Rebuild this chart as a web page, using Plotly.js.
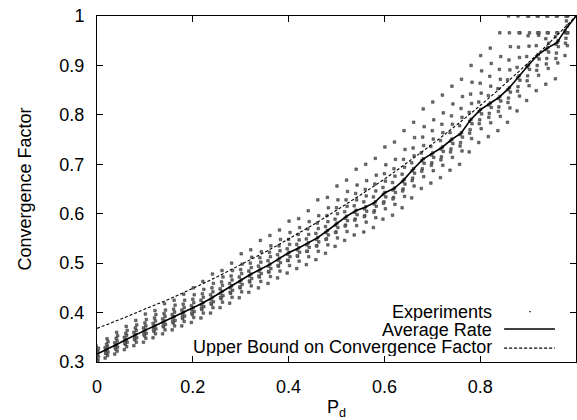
<!DOCTYPE html>
<html>
<head>
<meta charset="utf-8">
<script src="https://cdn.plot.ly/plotly-3.0.1.min.js"></script>
<style>html,body{margin:0;padding:0;background:#fff;}#chart{width:577px;height:420px;}</style>
</head>
<body>
<div id="chart"></div>
<script>
// Column positions of the experiments (P_d)
var colX = [0,0.02,0.04,0.06,0.08,0.10,0.12,0.14,0.16,0.18,0.20,0.22,0.24,0.26,0.28,0.30,0.32,0.34,0.36,0.38,0.40,0.42,0.44,0.46,0.48,0.50,0.52,0.54,0.56,0.58,0.60,0.62,0.64,0.66,0.68,0.70,0.72,0.74,0.76,0.78,0.80,0.82,0.84,0.86,0.88,0.90,0.92,0.94,0.96,0.98];
// Experiment values per column
var expY = [
[.300,.304,.308,.311,.314,.316,.318,.321,.324,.328,.333,.303],
[.308,.313,.317,.320,.323,.326,.329,.332,.336,.341,.318,.347],
[.316,.322,.326,.330,.333,.336,.339,.343,.348,.353,.329,.360],
[.325,.331,.336,.340,.343,.346,.350,.354,.358,.364,.338,.372],
[.333,.340,.345,.349,.353,.356,.360,.364,.369,.375,.347,.384],
[.340,.348,.353,.358,.362,.365,.369,.373,.379,.386,.356,.397],
[.349,.357,.362,.367,.371,.374,.378,.383,.389,.396,.365,.404],
[.357,.365,.371,.376,.380,.383,.387,.392,.398,.405,.373,.418],
[.365,.373,.379,.384,.389,.392,.396,.401,.407,.415,.382,.425],
[.373,.382,.388,.393,.397,.401,.405,.410,.417,.425,.390,.437],
[.380,.390,.396,.402,.406,.410,.414,.420,.427,.436,.399,.450],
[.389,.399,.406,.412,.416,.420,.425,.431,.438,.447,.409,.463],
[.399,.410,.417,.422,.427,.431,.436,.442,.450,.459,.419,.478],
[.410,.421,.428,.434,.439,.443,.448,.455,.462,.472,.431,.485],
[.419,.431,.439,.445,.450,.454,.459,.466,.474,.485,.441,.500],
[.430,.442,.450,.457,.462,.466,.472,.479,.487,.498,.452,.519],
[.441,.454,.462,.469,.474,.478,.484,.491,.500,.512,.464,.527],
[.450,.463,.472,.479,.484,.488,.494,.502,.511,.523,.474,.546],
[.459,.473,.482,.489,.494,.498,.505,.513,.522,.535,.483,.556],
[.470,.484,.494,.501,.506,.510,.517,.525,.535,.548,.495,.567],
[.480,.495,.505,.513,.518,.522,.529,.538,.548,.562,.506,.585],
[.489,.504,.514,.522,.527,.531,.538,.547,.558,.572,.515,.590],
[.497,.513,.524,.532,.537,.541,.549,.558,.569,.584,.524,.606],
[.507,.524,.535,.543,.548,.552,.560,.570,.581,.596,.535,.628],
[.520,.537,.549,.557,.562,.566,.574,.584,.596,.612,.548,.633],
[.534,.551,.563,.572,.577,.581,.589,.600,.612,.628,.562,.656],
[.546,.564,.577,.586,.591,.595,.604,.615,.628,.645,.575,.668],
[.557,.576,.589,.598,.603,.607,.616,.628,.641,.658,.587,.690],
[.563,.583,.596,.605,.610,.614,.624,.636,.649,.667,.594,.700],
[.572,.592,.606,.615,.620,.624,.634,.646,.660,.678,.603,.712],
[.589,.610,.624,.634,.639,.643,.653,.666,.681,.699,.621,.735],
[.597,.619,.633,.643,.648,.652,.663,.676,.691,.710,.630,.745],
[.612,.635,.650,.660,.665,.669,.680,.694,.710,.730,.646,.768],
[.632,.656,.672,.682,.687,.691,.703,.717,.733,.754,.667,.785],
[.651,.675,.691,.702,.707,.711,.723,.738,.755,.776,.686,.812],
[.662,.687,.703,.714,.719,.723,.736,.751,.768,.790,.698,.826],
[.673,.698,.715,.726,.731,.735,.748,.764,.781,.804,.709,.840],
[.688,.714,.731,.742,.747,.751,.764,.781,.798,.822,.725,.858],
[.700,.727,.744,.755,.760,.764,.778,.795,.813,.837,.737,.872],
[.725,.752,.770,.782,.787,.791,.805,.823,.842,.866,.763,.900],
[.744,.772,.790,.802,.807,.811,.826,.844,.864,.889,.782,.920],
[.756,.784,.803,.815,.820,.824,.839,.858,.878,.904,.795,.935],
[.768,.797,.816,.828,.833,.837,.853,.872,.892,.918,.807,.966],
[.785,.814,.834,.846,.851,.855,.871,.891,.911,.938,.825,.966,1.0],
[.808,.838,.857,.870,.875,.879,.896,.916,.937,.966,.848,.966,1.0],
[.829,.859,.879,.892,.897,.901,.918,.939,.960,.966,.869,1.0,1.0],
[.849,.880,.900,.913,.918,.922,.940,.961,.966,.966,.890,1.0,1.0],
[.862,.894,.914,.927,.932,.936,.954,.966,.966,.945,.903,1.0,1.0],
[.873,.905,.925,.938,.943,.947,.958,.966,.966,.950,.914,1.0,1.0],
[.920,.940,.955,.966,.966,.966,.970,.980,.990,1.0,.945,1.0,1.0]
];
// small spread of points inside each column (P_d units)
var spread = [-0.003,0.002,-0.001,0.003,-0.002,0.001,-0.003,0.002,0,0.003,-0.002,0.001,-0.001];

// Average rate
var avgX = [0,0.02,0.04,0.06,0.08,0.10,0.12,0.14,0.16,0.18,0.20,0.22,0.24,0.26,0.28,0.30,0.32,0.34,0.36,0.38,0.40,0.42,0.44,0.46,0.48,0.50,0.52,0.54,0.56,0.58,0.60,0.62,0.64,0.66,0.68,0.70,0.72,0.74,0.76,0.78,0.80,0.82,0.84,0.86,0.88,0.90,0.92,0.94,0.96,0.98,1.0];
var avgY = [.316,.325,.335,.345,.355,.364,.373,.382,.391,.400,.409,.419,.430,.442,.453,.465,.477,.487,.497,.509,.521,.530,.540,.551,.565,.580,.594,.606,.613,.623,.642,.651,.668,.690,.710,.722,.734,.750,.763,.790,.810,.823,.836,.854,.878,.900,.921,.935,.946,.975,1.0];

// Upper bound on convergence factor
var ubX = [0,0.05,0.10,0.15,0.20,0.25,0.30,0.35,0.40,0.45,0.50,0.55,0.60,0.65,0.70,0.75,0.80,0.85,0.90,0.95,1.0];
var ubY = [.368,.387,.407,.427,.449,.472,.497,.522,.549,.577,.607,.638,.670,.705,.741,.779,.819,.861,.905,.951,1.0];

var xTicks = [0,0.2,0.4,0.6,0.8,1];
var xTickText = ['0','0.2','0.4','0.6','0.8','1'];
var yTicks = [0.3,0.4,0.5,0.6,0.7,0.8,0.9,1];
var yTickText = ['0.3','0.4','0.5','0.6','0.7','0.8','0.9','1'];
var legendNames = ['Experiments','Average Rate','Upper Bound on Convergence Factor'];

var ex = [], ey = [];
for (var i = 0; i < colX.length; i++) {
  for (var j = 0; j < expY[i].length; j++) {
    ex.push(colX[i] + spread[j % spread.length]);
    ey.push(expY[i][j]);
  }
}

var FONT = 'Liberation Sans, Arial, Helvetica, sans-serif';

var traces = [
  {x: ex, y: ey, type: 'scatter', mode: 'markers', name: legendNames[0],
   marker: {symbol: 'square', size: 2.6, color: '#707070', line: {color: '#2a2a2a', width: 0.5}}},
  {x: avgX, y: avgY, type: 'scatter', mode: 'lines', name: legendNames[1],
   line: {color: '#000', width: 1.6}},
  {x: ubX, y: ubY, type: 'scatter', mode: 'lines', name: legendNames[2],
   line: {color: '#000', width: 1.1, dash: '3px,2px', shape: 'spline'}}
];

var legendY = [0.1445, 0.0925, 0.042];
var annotations = [];
for (var k = 0; k < 3; k++) {
  annotations.push({xref: 'paper', yref: 'paper', x: 0.827, y: legendY[k], xanchor: 'right', yanchor: 'middle',
    height: 18, valign: 'middle', borderpad: 0,
    text: legendNames[k], showarrow: false, font: {family: FONT, size: 18, color: '#000'}});
}
var shapes = [
  {type: 'rect', xref: 'paper', yref: 'paper', x0: 0.902, x1: 0.906, y0: 0.1435, y1: 0.1475,
   fillcolor: '#555', line: {width: 0}},
  {type: 'line', xref: 'paper', yref: 'paper', x0: 0.850, x1: 0.956, y0: 0.0955, y1: 0.0955,
   line: {color: '#000', width: 1.6}},
  {type: 'line', xref: 'paper', yref: 'paper', x0: 0.850, x1: 0.956, y0: 0.040, y1: 0.040,
   line: {color: '#000', width: 1.1, dash: '3px,2px'}}
];

var layout = {
  width: 577, height: 420,
  margin: {l: 97, r: 1, t: 16, b: 58, pad: 0},
  paper_bgcolor: '#fff', plot_bgcolor: '#fff',
  showlegend: false,
  font: {family: FONT, size: 18, color: '#000'},
  xaxis: {range: [0, 1], tickvals: xTicks, ticktext: xTickText, ticks: 'inside', ticklen: 6, tickcolor: '#000',
    showline: true, linecolor: '#000', linewidth: 1, mirror: 'ticks', showgrid: false, zeroline: false,
    ticklabelstandoff: 8,
    title: {text: 'P<sub>d</sub>', font: {family: FONT, size: 18}, standoff: 8}},
  yaxis: {range: [0.3, 1], tickvals: yTicks, ticktext: yTickText, ticks: 'inside', ticklen: 6, tickcolor: '#000',
    showline: true, linecolor: '#000', linewidth: 1, mirror: 'ticks', showgrid: false, zeroline: false,
    ticklabelstandoff: 8,
    title: {text: 'Convergence Factor', font: {family: FONT, size: 18}, standoff: 23}},
  annotations: annotations,
  shapes: shapes
};

Plotly.newPlot('chart', traces, layout, {displayModeBar: false, staticPlot: true});
</script>
</body>
</html>
